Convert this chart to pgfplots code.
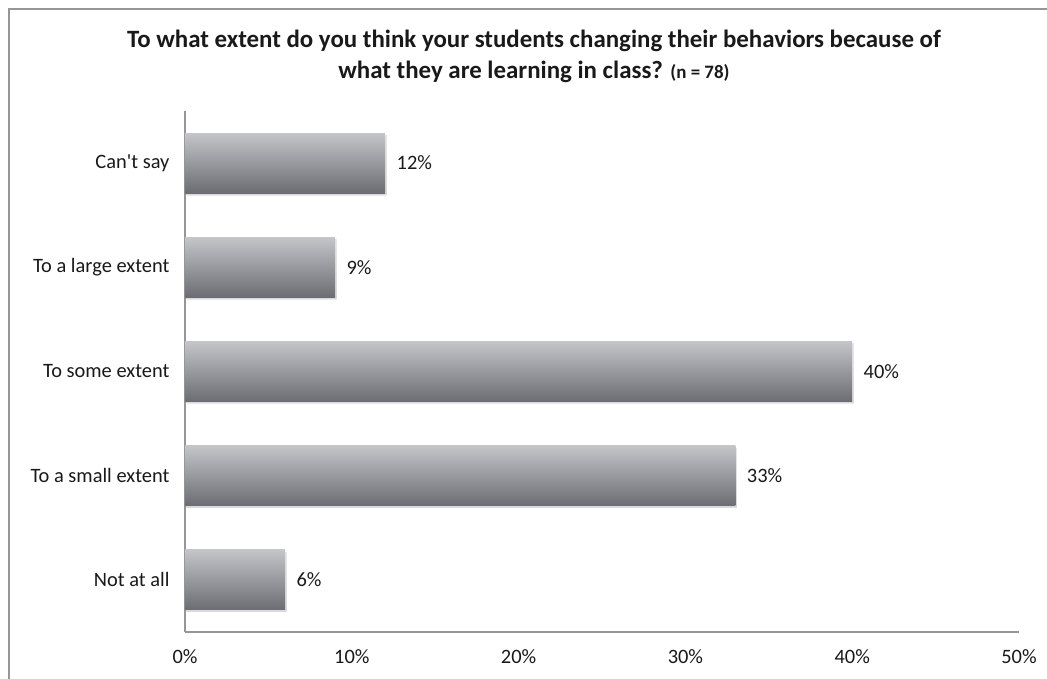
\documentclass[border=0pt]{standalone}
\usepackage{fontspec}
\setmainfont{Carlito}[Ligatures=TeXOff]
\usepackage{pgfplots}
\pgfplotsset{compat=1.18}
\usetikzlibrary{shadows}
\definecolor{bartop}{RGB}{196,197,201}
\definecolor{barbot}{RGB}{108,109,114}
\definecolor{axisgray}{RGB}{150,150,150}
\definecolor{txt}{RGB}{25,25,25}
\begin{document}
\begin{tikzpicture}[x=1bp,y=1bp]
\path[use as bounding box] (-185,-47) rectangle (862,632);
% outer frame, only left and top edges show
\draw[axisgray, line width=1.8bp] (-176,-60) -- (-176,623) -- (880,623);
\begin{axis}[
    at={(0,0)}, anchor=south west,
    width=834bp, height=521bp, scale only axis,
    xbar, bar width=60bp, bar shift=0pt,
    xmin=0, xmax=50, ymin=-0.5, ymax=4.5,
    axis x line=bottom, axis y line=left,
    axis line style={axisgray, line width=1.3bp, -},
    xtick={0,10,...,50},
    xticklabel={\pgfmathprintnumber{\tick}\%},
    ytick={0,...,4},
    yticklabels={Not at all, To a small extent, To some extent, To a large extent, Can't say},
    major tick length=0,
    /pgf/number format/assume math mode=true,
    tick label style={font=\fontsize{20.5}{24}\selectfont, text=txt},
    xticklabel style={yshift=-14bp},
    yticklabel style={xshift=-12bp},
    point meta=x,
    nodes near coords={\pgfmathprintnumber{\pgfplotspointmeta}\%},
    nodes near coords style={font=\fontsize{20.5}{24}\selectfont, text=txt, xshift=8bp},
    every axis plot/.append style={draw=none, top color=bartop, bottom color=barbot,
        drop shadow={shadow xshift=1.5bp, shadow yshift=-2bp, opacity=0.15}},
]
% one plot per bar so each bar gets its own shading
\addplot coordinates {(6,0)};
\addplot coordinates {(33,1)};
\addplot coordinates {(40,2)};
\addplot coordinates {(9,3)};
\addplot coordinates {(12,4)};
\end{axis}
\node[anchor=base, text=txt, font=\bfseries\fontsize{25}{30}\selectfont] at (349,584)
    {To what extent do you think your students changing their behaviors because of};
\node[anchor=base, text=txt, font=\bfseries\fontsize{25}{30}\selectfont] at (349,553)
    {what they are learning in class? {\fontsize{19}{22}\selectfont(n = 78)}};
\end{tikzpicture}
\end{document}
